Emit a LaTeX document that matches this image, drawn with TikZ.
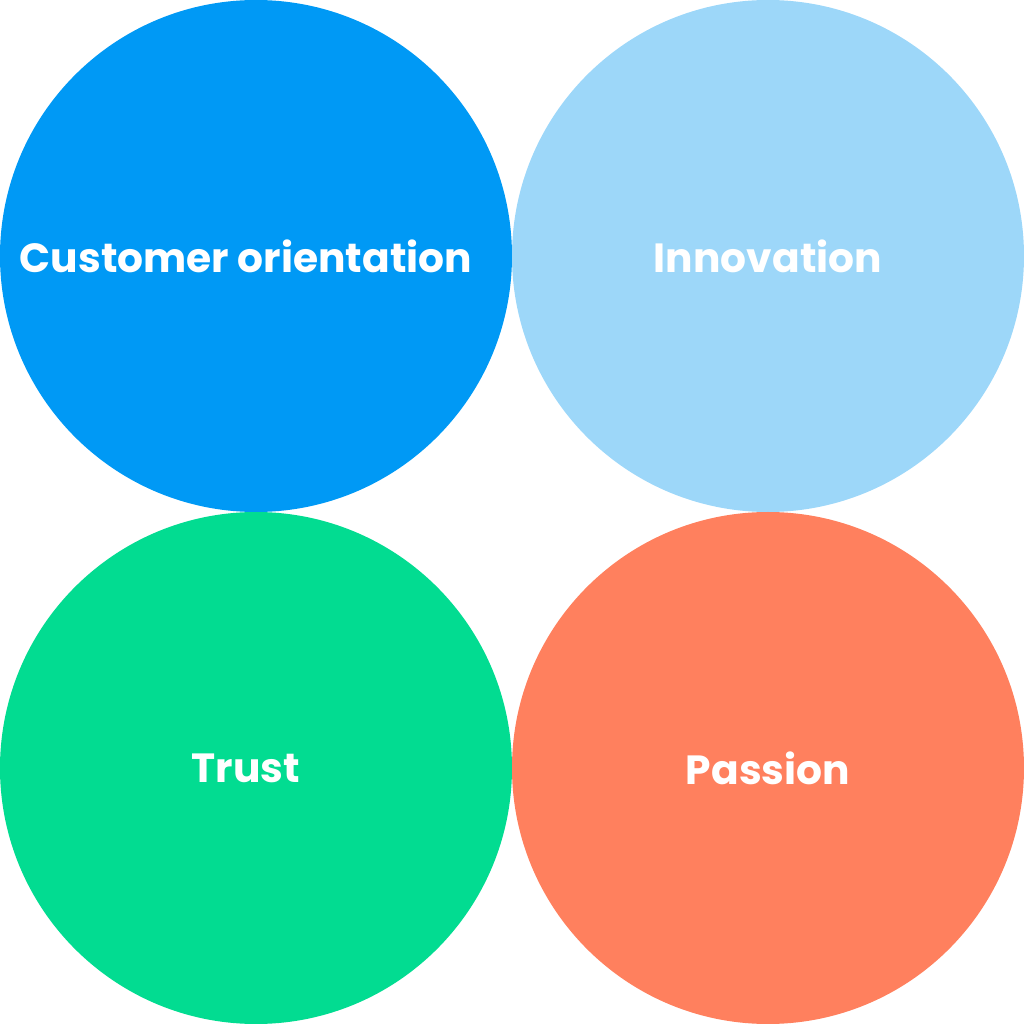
\documentclass[tikz,border=0pt]{standalone}
\usepackage{fontspec}
\setmainfont{Poppins}
\usetikzlibrary{positioning}
\definecolor{custblue}{RGB}{0,153,245}
\definecolor{innoblue}{RGB}{157,215,249}
\definecolor{trustgreen}{RGB}{2,220,145}
\definecolor{passorange}{RGB}{255,128,94}
\tikzset{
  value/.style={circle,minimum size=5.12cm,inner sep=0pt},
  valuetext/.style={text=white,inner sep=0pt,
    font=\fontsize{11.6}{14}\selectfont\bfseries}
}

\begin{document}
\begin{tikzpicture}
  \useasboundingbox (0,0) rectangle (10.24,10.24);
  \node[value,fill=custblue] (cust) at (2.56,7.68) {};
  \node[value,fill=innoblue] (inno) at (7.68,7.68) {};
  \node[value,fill=trustgreen] (trust) at (2.56,2.56) {};
  \node[value,fill=passorange] (pass) at (7.68,2.56) {};
  \node[valuetext] (custlabel) at ([xshift=-0.1cm]cust) {Customer orientation};
  \node[valuetext] (innolabel) at (inno) {Innovation};
  \node[valuetext] (trustlabel) at ([xshift=-0.1cm]trust) {Trust};
  \node[valuetext] (passlabel) at (pass) {Passion};
\end{tikzpicture}
\end{document}
